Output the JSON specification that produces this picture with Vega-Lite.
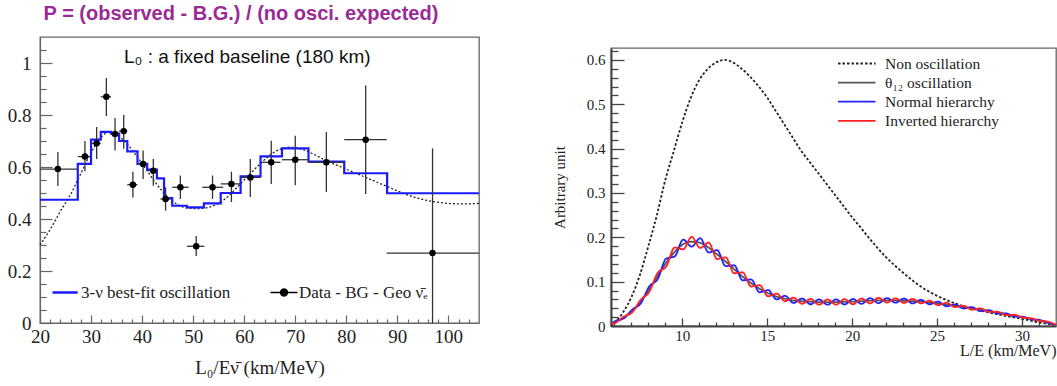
{
  "$schema": "https://vega.github.io/schema/vega-lite/v6.json",
  "background": "white",
  "padding": {"top": 4, "left": 6, "right": 0, "bottom": 0},
  "config": {
    "view": {"stroke": "#666", "strokeWidth": 1.3},
    "axis": {"grid": false, "labelFont": "Liberation Serif", "titleFont": "Liberation Serif", "labelColor": "#222", "titleColor": "#222", "titleFontWeight": "normal", "labelOverlap": false, "labelFlush": false},
    "legend": {"padding": 0, "labelFont": "Liberation Serif", "labelColor": "#222"}
  },
  "title": {"text": "P = (observed - B.G.) / (no osci. expected)", "font": "Liberation Sans", "fontWeight": "bold", "fontSize": 20, "color": "#9a2b96", "anchor": "start", "dx": 37, "offset": 12},
  "resolve": {
    "scale": {"color": "independent", "shape": "independent", "strokeDash": "independent"},
    "legend": {"color": "independent", "shape": "independent", "strokeDash": "independent"}
  },
  "datasets": {
    "curveL": [{"x":20,"y":0.30},{"x":22,"y":0.36},{"x":24,"y":0.43},{"x":26,"y":0.495},{"x":28,"y":0.575},{"x":30,"y":0.655},{"x":32,"y":0.715},{"x":33.5,"y":0.735},{"x":35,"y":0.725},{"x":37,"y":0.69},{"x":39,"y":0.64},{"x":41,"y":0.585},{"x":43,"y":0.53},{"x":45,"y":0.485},{"x":47,"y":0.455},{"x":49,"y":0.442},{"x":51,"y":0.44},{"x":53,"y":0.445},{"x":55,"y":0.46},{"x":57,"y":0.49},{"x":59,"y":0.53},{"x":61,"y":0.57},{"x":63,"y":0.61},{"x":65,"y":0.645},{"x":67,"y":0.668},{"x":69,"y":0.676},{"x":71,"y":0.67},{"x":73,"y":0.655},{"x":76,"y":0.625},{"x":79,"y":0.6},{"x":82,"y":0.575},{"x":85,"y":0.55},{"x":88,"y":0.525},{"x":91,"y":0.5},{"x":94,"y":0.48},{"x":97,"y":0.467},{"x":100,"y":0.46},{"x":103,"y":0.458},{"x":106,"y":0.46}],
    "stepL": [{"x":20,"y":0.474},{"x":27.4,"y":0.612},{"x":30.0,"y":0.705},{"x":31.9,"y":0.735},{"x":33.9,"y":0.728},{"x":35.5,"y":0.7},{"x":37.1,"y":0.66},{"x":39.1,"y":0.612},{"x":41.0,"y":0.59},{"x":42.9,"y":0.556},{"x":44.3,"y":0.48},{"x":45.9,"y":0.451},{"x":48.8,"y":0.445},{"x":52.1,"y":0.46},{"x":55.4,"y":0.5},{"x":59.3,"y":0.564},{"x":63.2,"y":0.641},{"x":67.4,"y":0.672},{"x":72.6,"y":0.621},{"x":79.6,"y":0.576},{"x":88.0,"y":0.499},{"x":106,"y":0.499}],
    "ptsL": [
      {"x":23.5,"y":0.592,"xlo":20,"xhi":27.4,"ylo":0.527,"yhi":0.658},
      {"x":28.8,"y":0.64,"xlo":27.4,"xhi":30.0,"ylo":0.585,"yhi":0.7},
      {"x":31.1,"y":0.691,"xlo":30.0,"xhi":31.9,"ylo":0.631,"yhi":0.754},
      {"x":33.0,"y":0.87,"xlo":31.9,"xhi":33.9,"ylo":0.796,"yhi":0.942},
      {"x":34.7,"y":0.727,"xlo":33.9,"xhi":35.5,"ylo":0.663,"yhi":0.788},
      {"x":36.4,"y":0.738,"xlo":35.5,"xhi":37.1,"ylo":0.67,"yhi":0.8},
      {"x":38.2,"y":0.532,"xlo":37.1,"xhi":39.1,"ylo":0.483,"yhi":0.582},
      {"x":40.2,"y":0.612,"xlo":39.1,"xhi":41.0,"ylo":0.554,"yhi":0.663},
      {"x":42.2,"y":0.586,"xlo":41.0,"xhi":42.9,"ylo":0.528,"yhi":0.631},
      {"x":44.6,"y":0.477,"xlo":43.6,"xhi":45.6,"ylo":0.432,"yhi":0.522},
      {"x":47.5,"y":0.522,"xlo":45.9,"xhi":49.1,"ylo":0.477,"yhi":0.567},
      {"x":50.6,"y":0.295,"xlo":48.8,"xhi":52.2,"ylo":0.258,"yhi":0.335},
      {"x":53.8,"y":0.522,"xlo":51.8,"xhi":55.9,"ylo":0.477,"yhi":0.567},
      {"x":57.5,"y":0.535,"xlo":55.4,"xhi":59.3,"ylo":0.465,"yhi":0.582},
      {"x":61.2,"y":0.56,"xlo":59.3,"xhi":63.2,"ylo":0.485,"yhi":0.631},
      {"x":65.3,"y":0.618,"xlo":63.5,"xhi":67.1,"ylo":0.535,"yhi":0.701},
      {"x":70.0,"y":0.628,"xlo":67.4,"xhi":72.6,"ylo":0.53,"yhi":0.72},
      {"x":76.1,"y":0.618,"xlo":72.6,"xhi":79.8,"ylo":0.504,"yhi":0.735},
      {"x":83.8,"y":0.705,"xlo":79.6,"xhi":87.9,"ylo":0.496,"yhi":0.913},
      {"x":96.9,"y":0.269,"xlo":87.9,"xhi":106,"ylo":-0.13,"yhi":0.672}
    ],
    "curvesR": [
      {"le":5.8,"v":0.0,"s":"Non oscillation"},{"le":6.5,"v":0.03,"s":"Non oscillation"},{"le":7.0,"v":0.065,"s":"Non oscillation"},{"le":7.5,"v":0.115,"s":"Non oscillation"},{"le":8.0,"v":0.18,"s":"Non oscillation"},{"le":8.5,"v":0.25,"s":"Non oscillation"},{"le":9.0,"v":0.33,"s":"Non oscillation"},{"le":9.5,"v":0.395,"s":"Non oscillation"},{"le":10.0,"v":0.46,"s":"Non oscillation"},{"le":10.5,"v":0.515,"s":"Non oscillation"},{"le":11.0,"v":0.555,"s":"Non oscillation"},{"le":11.5,"v":0.58,"s":"Non oscillation"},{"le":12.0,"v":0.595,"s":"Non oscillation"},{"le":12.5,"v":0.6,"s":"Non oscillation"},{"le":13.0,"v":0.594,"s":"Non oscillation"},{"le":13.5,"v":0.58,"s":"Non oscillation"},{"le":14.0,"v":0.562,"s":"Non oscillation"},{"le":14.5,"v":0.54,"s":"Non oscillation"},{"le":15.0,"v":0.515,"s":"Non oscillation"},{"le":15.5,"v":0.485,"s":"Non oscillation"},{"le":16.0,"v":0.455,"s":"Non oscillation"},{"le":16.5,"v":0.425,"s":"Non oscillation"},{"le":17.0,"v":0.395,"s":"Non oscillation"},{"le":17.5,"v":0.37,"s":"Non oscillation"},{"le":18.0,"v":0.345,"s":"Non oscillation"},{"le":18.5,"v":0.32,"s":"Non oscillation"},{"le":19.0,"v":0.295,"s":"Non oscillation"},{"le":19.5,"v":0.27,"s":"Non oscillation"},{"le":20.0,"v":0.245,"s":"Non oscillation"},{"le":20.5,"v":0.222,"s":"Non oscillation"},{"le":21.0,"v":0.198,"s":"Non oscillation"},{"le":22.0,"v":0.155,"s":"Non oscillation"},{"le":23.0,"v":0.12,"s":"Non oscillation"},{"le":24.0,"v":0.09,"s":"Non oscillation"},{"le":25.0,"v":0.068,"s":"Non oscillation"},{"le":26.0,"v":0.052,"s":"Non oscillation"},{"le":27.0,"v":0.04,"s":"Non oscillation"},{"le":28.0,"v":0.031,"s":"Non oscillation"},{"le":29.0,"v":0.023,"s":"Non oscillation"},{"le":30.0,"v":0.016,"s":"Non oscillation"},{"le":31.0,"v":0.008,"s":"Non oscillation"},{"le":32.0,"v":0.002,"s":"Non oscillation"},
      {"le":5.8,"v":0.004,"s":"θ₁₂ oscillation"},{"le":6.0,"v":0.008,"s":"θ₁₂ oscillation"},{"le":6.5,"v":0.018,"s":"θ₁₂ oscillation"},{"le":7.0,"v":0.032,"s":"θ₁₂ oscillation"},{"le":7.5,"v":0.052,"s":"θ₁₂ oscillation"},{"le":8.0,"v":0.08,"s":"θ₁₂ oscillation"},{"le":8.5,"v":0.11,"s":"θ₁₂ oscillation"},{"le":9.0,"v":0.14,"s":"θ₁₂ oscillation"},{"le":9.5,"v":0.165,"s":"θ₁₂ oscillation"},{"le":10.0,"v":0.183,"s":"θ₁₂ oscillation"},{"le":10.5,"v":0.19,"s":"θ₁₂ oscillation"},{"le":11.0,"v":0.188,"s":"θ₁₂ oscillation"},{"le":11.5,"v":0.178,"s":"θ₁₂ oscillation"},{"le":12.0,"v":0.163,"s":"θ₁₂ oscillation"},{"le":12.5,"v":0.147,"s":"θ₁₂ oscillation"},{"le":13.0,"v":0.13,"s":"θ₁₂ oscillation"},{"le":13.5,"v":0.113,"s":"θ₁₂ oscillation"},{"le":14.0,"v":0.098,"s":"θ₁₂ oscillation"},{"le":14.5,"v":0.085,"s":"θ₁₂ oscillation"},{"le":15.0,"v":0.075,"s":"θ₁₂ oscillation"},{"le":15.5,"v":0.067,"s":"θ₁₂ oscillation"},{"le":16.0,"v":0.062,"s":"θ₁₂ oscillation"},{"le":16.5,"v":0.058,"s":"θ₁₂ oscillation"},{"le":17.0,"v":0.056,"s":"θ₁₂ oscillation"},{"le":17.5,"v":0.055,"s":"θ₁₂ oscillation"},{"le":18.0,"v":0.054,"s":"θ₁₂ oscillation"},{"le":19.0,"v":0.054,"s":"θ₁₂ oscillation"},{"le":20.0,"v":0.055,"s":"θ₁₂ oscillation"},{"le":21.0,"v":0.057,"s":"θ₁₂ oscillation"},{"le":22.0,"v":0.058,"s":"θ₁₂ oscillation"},{"le":23.0,"v":0.057,"s":"θ₁₂ oscillation"},{"le":24.0,"v":0.055,"s":"θ₁₂ oscillation"},{"le":25.0,"v":0.051,"s":"θ₁₂ oscillation"},{"le":26.0,"v":0.046,"s":"θ₁₂ oscillation"},{"le":27.0,"v":0.04,"s":"θ₁₂ oscillation"},{"le":28.0,"v":0.034,"s":"θ₁₂ oscillation"},{"le":29.0,"v":0.027,"s":"θ₁₂ oscillation"},{"le":30.0,"v":0.02,"s":"θ₁₂ oscillation"},{"le":31.0,"v":0.012,"s":"θ₁₂ oscillation"},{"le":32.0,"v":0.002,"s":"θ₁₂ oscillation"},
      {"le":5.8,"v":0.004,"s":"Normal hierarchy"},{"le":6.05,"v":0.011,"s":"Normal hierarchy"},{"le":6.55,"v":0.017,"s":"Normal hierarchy"},{"le":7.05,"v":0.037,"s":"Normal hierarchy"},{"le":7.55,"v":0.051,"s":"Normal hierarchy"},{"le":8.05,"v":0.089,"s":"Normal hierarchy"},{"le":8.55,"v":0.106,"s":"Normal hierarchy"},{"le":9.05,"v":0.152,"s":"Normal hierarchy"},{"le":9.55,"v":0.157,"s":"Normal hierarchy"},{"le":10.05,"v":0.195,"s":"Normal hierarchy"},{"le":10.55,"v":0.179,"s":"Normal hierarchy"},{"le":11.05,"v":0.198,"s":"Normal hierarchy"},{"le":11.55,"v":0.166,"s":"Normal hierarchy"},{"le":12.05,"v":0.171,"s":"Normal hierarchy"},{"le":12.55,"v":0.135,"s":"Normal hierarchy"},{"le":13.05,"v":0.137,"s":"Normal hierarchy"},{"le":13.55,"v":0.103,"s":"Normal hierarchy"},{"le":14.05,"v":0.105,"s":"Normal hierarchy"},{"le":14.55,"v":0.076,"s":"Normal hierarchy"},{"le":15.05,"v":0.081,"s":"Normal hierarchy"},{"le":15.55,"v":0.06,"s":"Normal hierarchy"},{"le":16.05,"v":0.068,"s":"Normal hierarchy"},{"le":16.55,"v":0.052,"s":"Normal hierarchy"},{"le":17.05,"v":0.062,"s":"Normal hierarchy"},{"le":17.55,"v":0.049,"s":"Normal hierarchy"},{"le":18.05,"v":0.06,"s":"Normal hierarchy"},{"le":18.55,"v":0.048,"s":"Normal hierarchy"},{"le":19.05,"v":0.06,"s":"Normal hierarchy"},{"le":19.55,"v":0.0485,"s":"Normal hierarchy"},{"le":20.05,"v":0.061,"s":"Normal hierarchy"},{"le":20.55,"v":0.05,"s":"Normal hierarchy"},{"le":21.05,"v":0.063,"s":"Normal hierarchy"},{"le":21.55,"v":0.0515,"s":"Normal hierarchy"},{"le":22.05,"v":0.063,"s":"Normal hierarchy"},{"le":22.55,"v":0.0525,"s":"Normal hierarchy"},{"le":23.05,"v":0.062,"s":"Normal hierarchy"},{"le":23.55,"v":0.051,"s":"Normal hierarchy"},{"le":24.05,"v":0.059,"s":"Normal hierarchy"},{"le":24.55,"v":0.049,"s":"Normal hierarchy"},{"le":25.05,"v":0.055,"s":"Normal hierarchy"},{"le":25.55,"v":0.0445,"s":"Normal hierarchy"},{"le":26.05,"v":0.0488,"s":"Normal hierarchy"},{"le":26.55,"v":0.0397,"s":"Normal hierarchy"},{"le":27.05,"v":0.0427,"s":"Normal hierarchy"},{"le":27.55,"v":0.0337,"s":"Normal hierarchy"},{"le":28.05,"v":0.0357,"s":"Normal hierarchy"},{"le":28.55,"v":0.0282,"s":"Normal hierarchy"},{"le":29.05,"v":0.0287,"s":"Normal hierarchy"},{"le":29.55,"v":0.0212,"s":"Normal hierarchy"},{"le":30.05,"v":0.0207,"s":"Normal hierarchy"},{"le":30.55,"v":0.0152,"s":"Normal hierarchy"},{"le":31.05,"v":0.0136,"s":"Normal hierarchy"},{"le":31.55,"v":0.0076,"s":"Normal hierarchy"},{"le":32.0,"v":0.002,"s":"Normal hierarchy"},
      {"le":5.8,"v":0.004,"s":"Inverted hierarchy"},{"le":6.05,"v":0.007,"s":"Inverted hierarchy"},{"le":6.55,"v":0.021,"s":"Inverted hierarchy"},{"le":7.05,"v":0.031,"s":"Inverted hierarchy"},{"le":7.55,"v":0.059,"s":"Inverted hierarchy"},{"le":8.05,"v":0.077,"s":"Inverted hierarchy"},{"le":8.55,"v":0.12,"s":"Inverted hierarchy"},{"le":9.05,"v":0.134,"s":"Inverted hierarchy"},{"le":9.55,"v":0.177,"s":"Inverted hierarchy"},{"le":10.05,"v":0.173,"s":"Inverted hierarchy"},{"le":10.55,"v":0.201,"s":"Inverted hierarchy"},{"le":11.05,"v":0.176,"s":"Inverted hierarchy"},{"le":11.55,"v":0.188,"s":"Inverted hierarchy"},{"le":12.05,"v":0.151,"s":"Inverted hierarchy"},{"le":12.55,"v":0.155,"s":"Inverted hierarchy"},{"le":13.05,"v":0.119,"s":"Inverted hierarchy"},{"le":13.55,"v":0.121,"s":"Inverted hierarchy"},{"le":14.05,"v":0.089,"s":"Inverted hierarchy"},{"le":14.55,"v":0.092,"s":"Inverted hierarchy"},{"le":15.05,"v":0.067,"s":"Inverted hierarchy"},{"le":15.55,"v":0.073,"s":"Inverted hierarchy"},{"le":16.05,"v":0.056,"s":"Inverted hierarchy"},{"le":16.55,"v":0.064,"s":"Inverted hierarchy"},{"le":17.05,"v":0.05,"s":"Inverted hierarchy"},{"le":17.55,"v":0.061,"s":"Inverted hierarchy"},{"le":18.05,"v":0.048,"s":"Inverted hierarchy"},{"le":18.55,"v":0.06,"s":"Inverted hierarchy"},{"le":19.05,"v":0.048,"s":"Inverted hierarchy"},{"le":19.55,"v":0.0605,"s":"Inverted hierarchy"},{"le":20.05,"v":0.049,"s":"Inverted hierarchy"},{"le":20.55,"v":0.062,"s":"Inverted hierarchy"},{"le":21.05,"v":0.051,"s":"Inverted hierarchy"},{"le":21.55,"v":0.0635,"s":"Inverted hierarchy"},{"le":22.05,"v":0.053,"s":"Inverted hierarchy"},{"le":22.55,"v":0.0625,"s":"Inverted hierarchy"},{"le":23.05,"v":0.052,"s":"Inverted hierarchy"},{"le":23.55,"v":0.061,"s":"Inverted hierarchy"},{"le":24.05,"v":0.051,"s":"Inverted hierarchy"},{"le":24.55,"v":0.057,"s":"Inverted hierarchy"},{"le":25.05,"v":0.047,"s":"Inverted hierarchy"},{"le":25.55,"v":0.0525,"s":"Inverted hierarchy"},{"le":26.05,"v":0.0428,"s":"Inverted hierarchy"},{"le":26.55,"v":0.0457,"s":"Inverted hierarchy"},{"le":27.05,"v":0.0367,"s":"Inverted hierarchy"},{"le":27.55,"v":0.0397,"s":"Inverted hierarchy"},{"le":28.05,"v":0.0317,"s":"Inverted hierarchy"},{"le":28.55,"v":0.0322,"s":"Inverted hierarchy"},{"le":29.05,"v":0.0247,"s":"Inverted hierarchy"},{"le":29.55,"v":0.0252,"s":"Inverted hierarchy"},{"le":30.05,"v":0.0187,"s":"Inverted hierarchy"},{"le":30.55,"v":0.0172,"s":"Inverted hierarchy"},{"le":31.05,"v":0.0116,"s":"Inverted hierarchy"},{"le":31.55,"v":0.0096,"s":"Inverted hierarchy"},{"le":32.0,"v":0.002,"s":"Inverted hierarchy"}
    ]
  },
  "spacing": 66,
  "hconcat": [
    {
      "width": 439,
      "height": 286,
      "resolve": {"axis": {"x": "independent", "y": "independent"}},
      "layer": [
        {
          "data": {"name": "curveL"},
          "mark": {"type": "line", "color": "#222", "strokeWidth": 1.3, "strokeDash": [2, 2], "interpolate": "monotone"},
          "encoding": {
            "x": {"field": "x", "type": "quantitative", "scale": {"domain": [20, 106], "nice": false, "zero": false},
              "axis": {"orient": "bottom", "title": "L₀/Eν̄ (km/MeV)", "titleFont": "Liberation Serif", "titleFontWeight": "normal", "titleFontSize": 19, "titlePadding": 8, "labelFont": "Liberation Serif", "labelFontSize": 19, "labelPadding": 12, "labelOverlap": false, "labelFlush": false, "labelColor": "#222", "domainColor": "#666", "tickColor": "#666", "tickWidth": 1.2, "domainWidth": 1.2,
                "values": [20,22,24,26,28,30,32,34,36,38,40,42,44,46,48,50,52,54,56,58,60,62,64,66,68,70,72,74,76,78,80,82,84,86,88,90,92,94,96,98,100,102,104],
                "labelExpr": "datum.value % 10 === 0 ? datum.label : ''",
                "tickSize": {"condition": {"test": "datum.value % 10 === 0", "value": -8}, "value": -4}}},
            "y": {"field": "y", "type": "quantitative", "scale": {"domain": [0, 1.1], "nice": false},
              "axis": {"orient": "left", "title": null, "labelFont": "Liberation Serif", "labelFontSize": 19, "labelPadding": 21, "labelOverlap": false, "labelColor": "#222", "domainColor": "#666", "tickColor": "#666", "tickWidth": 1.2, "domainWidth": 1.2,
                "values": [0,0.05,0.1,0.15,0.2,0.25,0.3,0.35,0.4,0.45,0.5,0.55,0.6,0.65,0.7,0.75,0.8,0.85,0.9,0.95,1,1.05],
                "labelExpr": "abs(datum.value*5 - round(datum.value*5)) < 0.001 ? format(datum.value, '~g') : ''",
                "tickSize": {"condition": {"test": "abs(datum.value*5 - round(datum.value*5)) < 0.001", "value": -12}, "value": -6}}}
          }
        },
        {
          "data": {"name": "stepL"},
          "mark": {"type": "line", "interpolate": "step-after", "strokeWidth": 2.2},
          "encoding": {
            "x": {"field": "x", "type": "quantitative", "axis": null},
            "y": {"field": "y", "type": "quantitative", "axis": null},
            "color": {"datum": "3-ν best-fit oscillation", "type": "nominal", "scale": {"range": ["#1a1aff"]},
              "legend": {"title": null, "orient": "none", "legendX": 11, "legendY": 247, "symbolType": "M-1,0H2.6", "symbolSize": 196, "symbolStrokeWidth": 2.5, "labelFont": "Liberation Serif", "labelFontSize": 17, "labelOffset": 13, "padding": 0}}
          }
        },
        {
          "data": {"name": "ptsL"},
          "mark": {"type": "rule", "color": "#333", "strokeWidth": 1.3, "clip": true},
          "encoding": {
            "x": {"field": "x", "type": "quantitative", "axis": null},
            "y": {"field": "ylo", "type": "quantitative", "axis": null},
            "y2": {"field": "yhi"}
          }
        },
        {
          "data": {"name": "ptsL"},
          "mark": {"type": "rule", "color": "#333", "strokeWidth": 1.3, "clip": true},
          "encoding": {
            "x": {"field": "xlo", "type": "quantitative", "axis": null},
            "x2": {"field": "xhi"},
            "y": {"field": "y", "type": "quantitative", "axis": null}
          }
        },
        {
          "data": {"name": "ptsL"},
          "mark": {"type": "point", "filled": true, "color": "black", "size": 42, "opacity": 1, "shape": "circle"},
          "encoding": {
            "x": {"field": "x", "type": "quantitative", "axis": null},
            "y": {"field": "y", "type": "quantitative", "axis": null}
          }
        },
        {
          "data": {"values": []},
          "mark": {"type": "line", "color": "black", "strokeWidth": 1.3},
          "encoding": {
            "x": {"field": "x", "type": "quantitative", "axis": null},
            "y": {"field": "y", "type": "quantitative", "axis": null},
            "strokeDash": {"datum": "Data - BG - Geo ν̄ₑ", "type": "nominal",
              "scale": {"range": [[1, 0]]},
              "legend": {"title": null, "orient": "none", "legendX": 229, "legendY": 247, "symbolType": "M-1,0H2.857M1.429,0A0.5,0.5,0,1,1,0.429,0A0.5,0.5,0,1,1,1.429,0M1.229,0A0.3,0.3,0,1,1,0.629,0A0.3,0.3,0,1,1,1.229,0M1.029,0A0.1,0.1,0,1,1,0.829,0A0.1,0.1,0,1,1,1.029,0", "symbolSize": 196, "symbolStrokeColor": "black", "symbolStrokeWidth": 1.4, "labelFont": "Liberation Serif", "labelFontSize": 17, "labelOffset": 13, "padding": 0}}
          }
        },
        {
          "data": {"values": [{}]},
          "mark": {"type": "text", "font": "Liberation Sans", "fontSize": 19, "color": "#111", "align": "center", "baseline": "middle"},
          "encoding": {
            "x": {"datum": 60.6, "type": "quantitative", "axis": null},
            "y": {"datum": 1.023, "type": "quantitative", "axis": null},
            "text": {"value": "L₀ : a fixed baseline (180 km)"}
          }
        }
      ]
    },
    {
      "spacing": 5,
      "vconcat": [
        {
          "width": 445,
          "height": 1,
          "view": {"stroke": null},
          "data": {"values": []},
          "mark": {"type": "point", "opacity": 0}
        },
        {
          "width": 445,
          "height": 278,
          "data": {"name": "curvesR"},
          "mark": {"type": "line", "strokeWidth": 1.8, "interpolate": "monotone"},
          "encoding": {
            "x": {"field": "le", "type": "quantitative", "scale": {"domain": [5.8, 32], "nice": false, "zero": false},
              "axis": {"title": "L/E (km/MeV)", "titleFont": "Liberation Serif", "titleFontWeight": "normal", "titleAnchor": "end", "titleFontSize": 16, "titlePadding": -5, "labelFont": "Liberation Serif", "labelFontSize": 15, "labelPadding": 10, "labelOverlap": false, "labelFlush": false, "labelColor": "#222", "domainColor": "#444", "domainWidth": 2, "tickColor": "#444", "tickWidth": 1.3,
                "values": [6,7,8,9,10,11,12,13,14,15,16,17,18,19,20,21,22,23,24,25,26,27,28,29,30,31],
                "labelExpr": "datum.value % 5 === 0 ? datum.label : ''",
                "tickSize": {"condition": {"test": "datum.value % 5 === 0", "value": -8}, "value": -4}}},
            "y": {"field": "v", "type": "quantitative", "scale": {"domain": [0, 0.627], "nice": false},
              "axis": {"title": "Arbitrary unit", "titleFont": "Liberation Serif", "titleFontWeight": "normal", "titleFontSize": 15, "titlePadding": 19, "labelFont": "Liberation Serif", "labelFontSize": 15, "labelPadding": 19, "labelOverlap": false, "labelColor": "#222", "domainColor": "#444", "domainWidth": 2, "tickColor": "#444", "tickWidth": 1.3,
                "values": [0,0.02,0.04,0.06,0.08,0.1,0.12,0.14,0.16,0.18,0.2,0.22,0.24,0.26,0.28,0.3,0.32,0.34,0.36,0.38,0.4,0.42,0.44,0.46,0.48,0.5,0.52,0.54,0.56,0.58,0.6,0.62],
                "labelExpr": "abs(datum.value*10 - round(datum.value*10)) < 0.001 ? format(datum.value, '~g') : ''",
                "tickSize": {"condition": {"test": "abs(datum.value*10 - round(datum.value*10)) < 0.001", "value": -13}, "value": -7}}},
            "color": {"field": "s", "type": "nominal",
              "scale": {"domain": ["Non oscillation", "θ₁₂ oscillation", "Normal hierarchy", "Inverted hierarchy"], "range": ["#222222", "#555555", "#2222ff", "#ff2222"]},
              "legend": {"title": null, "orient": "none", "legendX": 226, "legendY": 18, "symbolType": "M-1,0H4", "symbolSize": 225, "symbolStrokeWidth": 1.8, "labelFont": "Liberation Serif", "labelFontSize": 15.5, "labelOffset": 31, "rowPadding": 2.1, "padding": 0}},
            "strokeDash": {"field": "s", "type": "nominal",
              "scale": {"domain": ["Non oscillation", "θ₁₂ oscillation", "Normal hierarchy", "Inverted hierarchy"], "range": [[2.5, 2], [1, 0], [1, 0], [1, 0]]}}
          }
        }
      ]
    }
  ]
}
